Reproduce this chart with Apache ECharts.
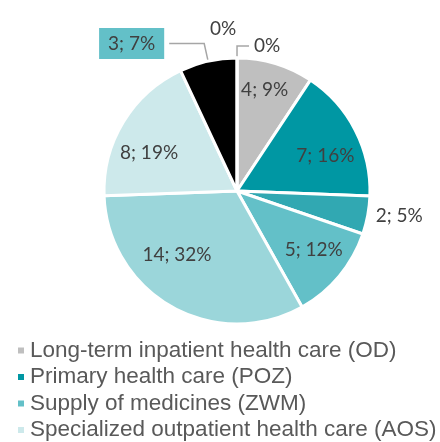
<!DOCTYPE html>
<html>
<head>
<meta charset="utf-8">
<script src="https://cdn.jsdelivr.net/npm/echarts@6/dist/echarts.min.js"></script>
<style>
  html, body { margin: 0; padding: 0; background: #fff; }
  #chart { width: 440px; height: 442px; }
</style>
</head>
<body>
<div id="chart"></div>
<script>
// slices clockwise from 12 o'clock
const names = ['Other (a)', 'Long-term inpatient health care (OD)', 'Primary health care (POZ)', 'Other (b)',
  'Supply of medicines (ZWM)', 'Other (c)', 'Specialized outpatient health care (AOS)', 'Other (d)', 'Other (e)']
const values = [0, 4, 7, 2, 5, 14, 8, 3, 0]
const colors = ['#7f7f7f', '#bfbfbf', '#0097a3', '#31a8b2', '#63c0c8', '#9bd6da', '#cde9eb', '#000000', '#595959']
const legendNames = [names[1], names[2], names[4], names[6]]

// slices whose label sits outside the pie
const outside = [0, 3, 7, 8]
// small nudges for the inside labels (like Excel's best fit)
const nudge = { 1: [0, -9], 2: [3, 9], 4: [3, -3], 5: [-13, -20], 6: [-6, 12] }

const labelText = (p) => p.value === 0 ? '0%' : p.value + '; ' + p.percent + '%'
const textStyle = { color: '#404040', fontFamily: 'Lato', fontSize: 19 }

const outsideStyle = {
  0: { label: { show: true }, labelLine: { show: true, length: 12, length2: 12 } },
  3: { label: { show: true }, labelLine: { show: false, length: 3, length2: 0 } },
  7: {
    label: { show: true, backgroundColor: '#63c0c8', padding: [6, 9] },
    labelLine: { show: true, length: 18, length2: 35 }
  },
  // lands on the right-hand side as well, pulled back left over the top of the pie
  8: { label: { show: true, distanceToLabelLine: 0 }, labelLine: { show: false, length: 29, length2: -27 } }
}

const chart = echarts.init(document.getElementById('chart'))

chart.setOption({
  backgroundColor: '#fff',
  animation: false,
  legend: {
    data: legendNames,
    orient: 'vertical',
    left: 16,
    top: 339,
    padding: 0,
    itemWidth: 8,
    itemHeight: 8,
    itemGap: 3.5,
    icon: 'rect',
    selectedMode: false,
    textStyle: { color: '#595959', fontFamily: 'Liberation Sans', fontSize: 22.5 }
  },
  series: [
    { // pie body, outside labels only
      type: 'pie',
      center: [237, 191],
      radius: [0, 133],
      startAngle: 89.99,
      percentPrecision: 0,
      avoidLabelOverlap: false,
      legendHoverLink: false,
      itemStyle: { borderColor: '#fff', borderWidth: 3 },
      label: Object.assign({ show: false, position: 'outside', formatter: labelText, distanceToLabelLine: 5 }, textStyle),
      labelLine: { lineStyle: { color: '#a6a6a6', width: 1.5 } },
      emphasis: { disabled: true },
      data: values.map((v, i) => Object.assign({
        name: names[i],
        value: v,
        itemStyle: { color: colors[i] }
      }, outsideStyle[i] || {}))
    },
    { // transparent ring that carries the inside labels
      type: 'pie',
      center: [237, 191],
      radius: [53, 133],
      startAngle: 89.99,
      percentPrecision: 0,
      silent: true,
      legendHoverLink: false,
      itemStyle: { color: 'rgba(0,0,0,0)', borderWidth: 0 },
      label: Object.assign({ show: true, position: 'inside', formatter: labelText }, textStyle),
      labelLine: { show: false },
      emphasis: { disabled: true },
      labelLayout: (p) => {
        const n = nudge[p.dataIndex] || [0, 0]
        return { dx: n[0], dy: n[1] }
      },
      data: values.map((v, i) => ({
        name: names[i],
        value: v,
        label: { show: outside.indexOf(i) < 0 }
      }))
    }
  ]
})
</script>
</body>
</html>
